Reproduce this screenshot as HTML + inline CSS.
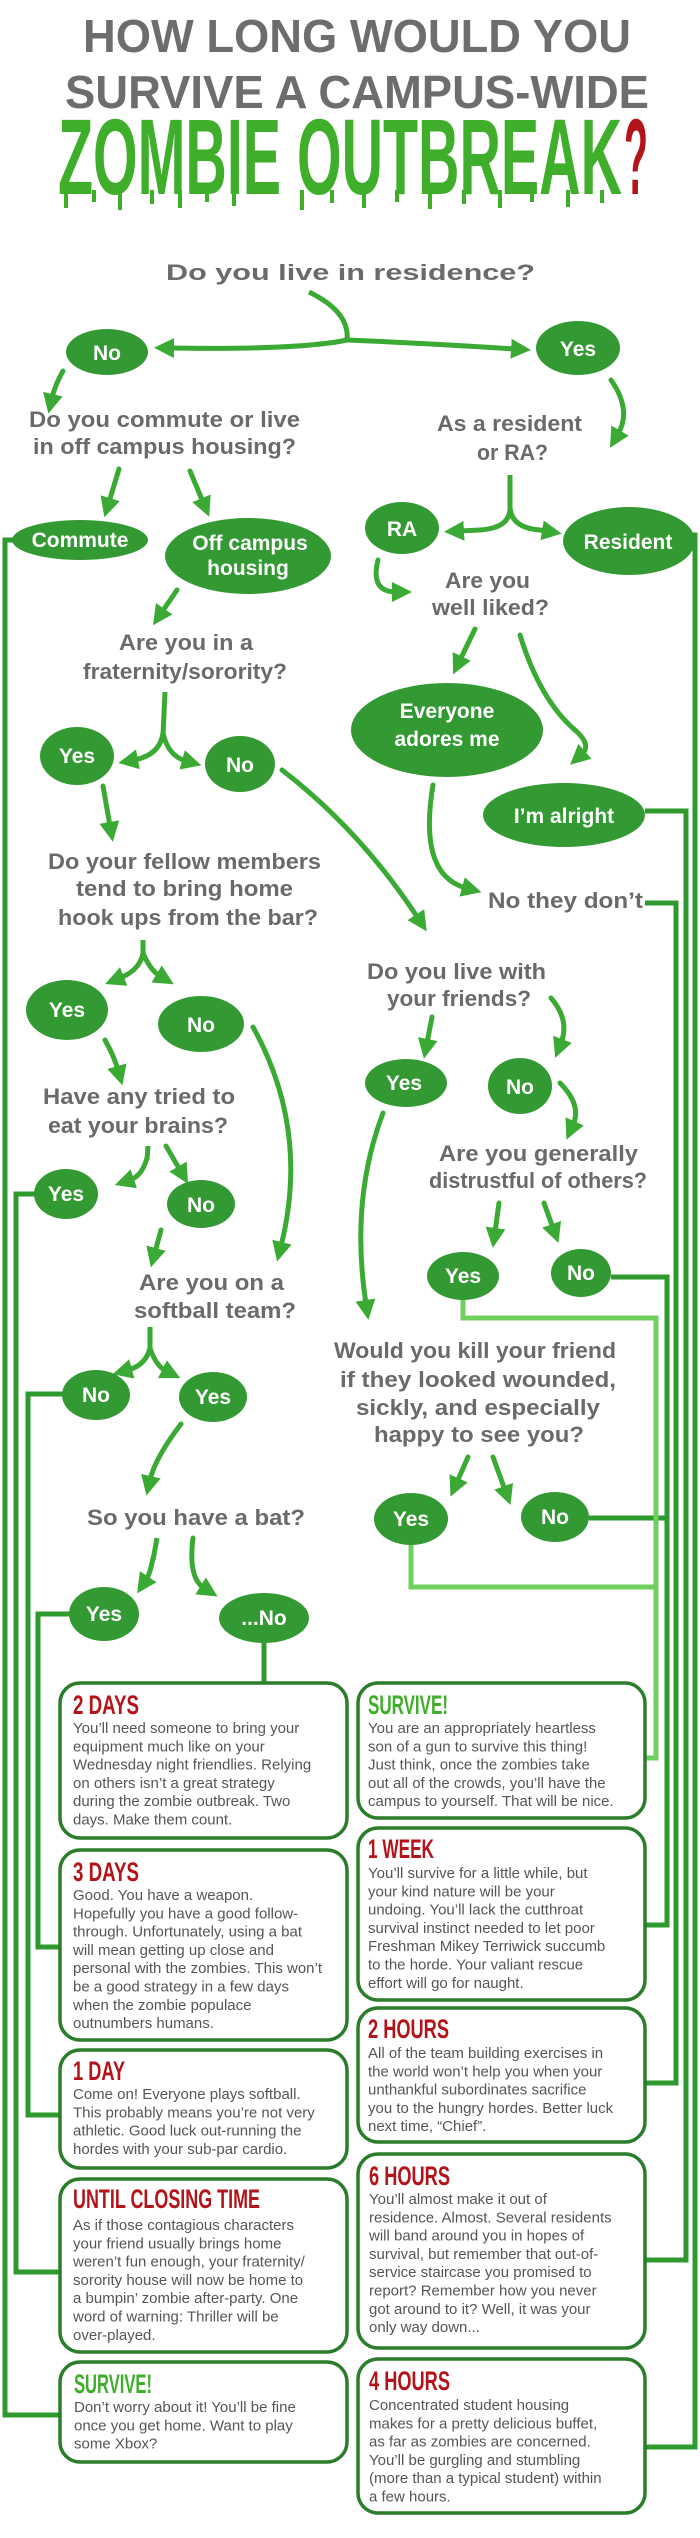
<!DOCTYPE html>
<html><head><meta charset="utf-8"><style>
html,body{margin:0;padding:0;background:#fff;}
svg{display:block;}
.q{font-family:"Liberation Sans",sans-serif;font-weight:bold;fill:#6a6a6a;font-size:22px;}
.l{font-family:"Liberation Sans",sans-serif;font-weight:bold;fill:#fff;font-size:21px;text-anchor:middle;}
.b{font-family:"Liberation Sans",sans-serif;fill:#555;font-size:15px;}
.h{font-family:"Liberation Sans Narrow","Liberation Sans",sans-serif;font-weight:bold;font-size:27px;fill:#b3141a;}
.a{fill:none;stroke:#3aaa35;stroke-width:5;stroke-linecap:round;marker-end:url(#ah);}
.ln{fill:none;stroke:#2e9a2e;stroke-width:5;}
.bx{fill:#fff;stroke:#2a7d2a;stroke-width:3.5;}
</style></head><body>
<svg width="700" height="2538" viewBox="0 0 700 2538" xmlns="http://www.w3.org/2000/svg">
<defs>
<marker id="ah" markerUnits="userSpaceOnUse" markerWidth="22" markerHeight="22" refX="4" refY="11" orient="auto">
<path d="M0,1 L20,11 L0,21 Z" fill="#3aaa35"/>
</marker>
</defs>

<!-- Title -->
<text x="83" y="52" textLength="548" lengthAdjust="spacingAndGlyphs" font-family="Liberation Sans, sans-serif" font-weight="bold" font-size="46" fill="#6d6d6d">HOW LONG WOULD YOU</text>
<text x="65" y="108" textLength="584" lengthAdjust="spacingAndGlyphs" font-family="Liberation Sans, sans-serif" font-weight="bold" font-size="46" fill="#6d6d6d">SURVIVE A CAMPUS-WIDE</text>
<text x="58" y="194" textLength="564" lengthAdjust="spacingAndGlyphs" font-family="Liberation Sans Narrow, Liberation Sans, sans-serif" font-weight="bold" font-size="108" fill="#3fae2a">ZOMBIE OUTBREAK</text>
<text x="624" y="194" textLength="24" lengthAdjust="spacingAndGlyphs" font-family="Liberation Sans Narrow, Liberation Sans, sans-serif" font-weight="bold" font-size="108" fill="#b3141a">?</text>
<g fill="#3fae2a">
<rect x="64" y="190" width="4" height="18"/><rect x="92" y="190" width="4" height="12"/><rect x="118" y="190" width="4" height="20"/><rect x="150" y="190" width="4" height="14"/><rect x="178" y="190" width="4" height="18"/><rect x="205" y="190" width="4" height="12"/><rect x="232" y="190" width="4" height="16"/><rect x="300" y="190" width="4" height="20"/><rect x="330" y="190" width="4" height="13"/><rect x="362" y="190" width="4" height="18"/><rect x="395" y="190" width="4" height="12"/><rect x="428" y="190" width="4" height="19"/><rect x="462" y="190" width="4" height="14"/><rect x="498" y="190" width="4" height="18"/><rect x="530" y="190" width="4" height="12"/><rect x="566" y="190" width="4" height="17"/><rect x="600" y="190" width="4" height="13"/>
</g>

<!-- side lines -->
<path class="ln" d="M14,540 L5,540 L5,2415 L60,2415"/>
<path class="ln" d="M36,1194 L16,1194 L16,2272 L60,2272"/>
<path class="ln" d="M63,1394 L28,1394 L28,2115 L60,2115"/>
<path class="ln" d="M70,1614 L38,1614 L38,1947 L60,1947"/>
<path class="ln" d="M264,1643 L264,1683"/>
<path class="ln" d="M693,535 L695,535 L695,2447 L645,2447"/>
<path class="ln" d="M645,811 L686,811 L686,2260 L645,2260"/>
<path class="ln" d="M645,903 L676,903 L676,2083 L645,2083"/>
<path class="ln" d="M611,1277 L667,1277 L667,1925 L645,1925"/>
<path class="ln" d="M589,1518 L667,1518"/>
<path class="ln" style="stroke:#6fcf5f" d="M463,1300 L463,1318 L656,1318 L656,1758 L645,1758"/>
<path class="ln" style="stroke:#6fcf5f" d="M411,1545 L411,1587 L656,1587"/>

<!-- arrows -->
<path d="M309,292 Q350,312 347,340" fill="none" stroke="#3aaa35" stroke-width="5"/>
<path class="a" d="M347,340 Q300,350 170,348"/>
<path class="a" d="M347,340 Q420,343 515,349"/>
<path class="a" d="M63,371 Q55,385 52,398"/>
<path class="a" d="M611,380 Q632,410 618,434"/>
<path class="a" d="M119,469 L109,502"/>
<path class="a" d="M190,471 L203,502"/>
<path d="M510,475 L510,510" fill="none" stroke="#3aaa35" stroke-width="5"/>
<path class="a" d="M510,508 Q510,528 480,530 L460,531"/>
<path class="a" d="M510,508 Q512,528 540,530 L546,531"/>
<path class="a" d="M378,560 Q370,592 396,592"/>
<path class="a" d="M177,590 L162,612"/>
<path d="M165,692 L163,735" fill="none" stroke="#3aaa35" stroke-width="5"/>
<path class="a" d="M163,733 Q160,755 134,760"/>
<path class="a" d="M163,733 Q168,756 186,761"/>
<path class="a" d="M103,786 L110,826"/>
<path class="a" d="M282,770 Q360,830 418,918"/>
<path class="a" d="M475,629 L460,660"/>
<path class="a" d="M520,635 Q540,700 575,730 Q592,745 582,754"/>
<path class="a" d="M433,785 Q418,875 466,888"/>
<path d="M143,940 L143,955" fill="none" stroke="#3aaa35" stroke-width="5"/>
<path class="a" d="M143,953 Q140,970 120,978"/>
<path class="a" d="M143,953 Q150,970 160,976"/>
<path class="a" d="M105,1040 Q114,1056 118,1070"/>
<path class="a" d="M253,1027 Q310,1130 281,1246"/>
<path class="a" d="M432,1017 L427,1043"/>
<path class="a" d="M551,998 Q570,1020 561,1043"/>
<path class="a" d="M560,1083 Q582,1105 573,1125"/>
<path class="a" d="M383,1113 Q350,1200 366,1304"/>
<path d="M148,1146 L147,1160" fill="none" stroke="#3aaa35" stroke-width="5"/>
<path class="a" d="M147,1158 Q142,1176 130,1180"/>
<path class="a" d="M166,1146 L180,1170"/>
<path class="a" d="M161,1230 L155,1252"/>
<path class="a" d="M499,1203 L495,1232"/>
<path class="a" d="M544,1203 L553,1228"/>
<path d="M150,1327 L150,1350" fill="none" stroke="#3aaa35" stroke-width="5"/>
<path class="a" d="M150,1348 Q146,1365 128,1370"/>
<path class="a" d="M150,1348 Q156,1366 166,1371"/>
<path class="a" d="M181,1424 Q155,1458 150,1480"/>
<path class="a" d="M468,1457 L457,1482"/>
<path class="a" d="M493,1457 L505,1490"/>
<path d="M157,1538 L153,1560" fill="none" stroke="#3aaa35" stroke-width="5"/>
<path class="a" d="M153,1558 Q150,1574 146,1580"/>
<path class="a" d="M193,1538 Q188,1578 204,1588"/>

<!-- questions -->
<text class="q" x="166" y="280" font-size="27" textLength="369" lengthAdjust="spacingAndGlyphs">Do you live in residence?</text>
<text class="q" x="29" y="427" textLength="271" lengthAdjust="spacingAndGlyphs">Do you commute or live</text>
<text class="q" x="33" y="454" textLength="263" lengthAdjust="spacingAndGlyphs">in off campus housing?</text>
<text class="q" x="437" y="431" textLength="145" lengthAdjust="spacingAndGlyphs">As a resident</text>
<text class="q" x="477" y="460" textLength="71" lengthAdjust="spacingAndGlyphs">or RA?</text>
<text class="q" x="445" y="588" textLength="85" lengthAdjust="spacingAndGlyphs">Are you</text>
<text class="q" x="432" y="615" textLength="117" lengthAdjust="spacingAndGlyphs">well liked?</text>
<text class="q" x="119" y="650" textLength="134" lengthAdjust="spacingAndGlyphs">Are you in a</text>
<text class="q" x="83" y="679" textLength="204" lengthAdjust="spacingAndGlyphs">fraternity/sorority?</text>
<text class="q" x="48" y="869" textLength="273" lengthAdjust="spacingAndGlyphs">Do your fellow members</text>
<text class="q" x="76" y="896" textLength="217" lengthAdjust="spacingAndGlyphs">tend to bring home</text>
<text class="q" x="58" y="925" textLength="260" lengthAdjust="spacingAndGlyphs">hook ups from the bar?</text>
<text class="q" x="488" y="908" textLength="155" lengthAdjust="spacingAndGlyphs">No they don’t</text>
<text class="q" x="367" y="979" textLength="179" lengthAdjust="spacingAndGlyphs">Do you live with</text>
<text class="q" x="387" y="1006" textLength="144" lengthAdjust="spacingAndGlyphs">your friends?</text>
<text class="q" x="43" y="1104" textLength="192" lengthAdjust="spacingAndGlyphs">Have any tried to</text>
<text class="q" x="48" y="1133" textLength="180" lengthAdjust="spacingAndGlyphs">eat your brains?</text>
<text class="q" x="439" y="1161" textLength="199" lengthAdjust="spacingAndGlyphs">Are you generally</text>
<text class="q" x="429" y="1188" textLength="218" lengthAdjust="spacingAndGlyphs">distrustful of others?</text>
<text class="q" x="139" y="1290" textLength="145" lengthAdjust="spacingAndGlyphs">Are you on a</text>
<text class="q" x="134" y="1318" textLength="162" lengthAdjust="spacingAndGlyphs">softball team?</text>
<text class="q" x="334" y="1358" textLength="282" lengthAdjust="spacingAndGlyphs">Would you kill your friend</text>
<text class="q" x="340" y="1387" textLength="276" lengthAdjust="spacingAndGlyphs">if they looked wounded,</text>
<text class="q" x="356" y="1415" textLength="244" lengthAdjust="spacingAndGlyphs">sickly, and especially</text>
<text class="q" x="374" y="1442" textLength="210" lengthAdjust="spacingAndGlyphs">happy to see you?</text>
<text class="q" x="87" y="1525" textLength="218" lengthAdjust="spacingAndGlyphs">So you have a bat?</text>

<!-- ellipses -->
<g fill="#339933">
<ellipse cx="107" cy="352" rx="41" ry="23"/>
<ellipse cx="578" cy="348" rx="42" ry="27"/>
<ellipse cx="80" cy="540" rx="68" ry="20"/>
<ellipse cx="248" cy="556" rx="83" ry="38"/>
<ellipse cx="402" cy="528" rx="37" ry="26"/>
<ellipse cx="629" cy="541" rx="66" ry="34"/>
<ellipse cx="447" cy="730" rx="96" ry="47"/>
<ellipse cx="564" cy="815" rx="81" ry="32"/>
<ellipse cx="77" cy="756" rx="37" ry="29"/>
<ellipse cx="240" cy="764" rx="35" ry="28"/>
<ellipse cx="67" cy="1010" rx="41" ry="30"/>
<ellipse cx="201" cy="1024" rx="43" ry="28"/>
<ellipse cx="406" cy="1083" rx="41" ry="24"/>
<ellipse cx="520" cy="1086" rx="32" ry="28"/>
<ellipse cx="66" cy="1194" rx="32" ry="25"/>
<ellipse cx="201" cy="1204" rx="34" ry="24"/>
<ellipse cx="463" cy="1276" rx="36" ry="24"/>
<ellipse cx="581" cy="1273" rx="30" ry="24"/>
<ellipse cx="96" cy="1395" rx="34" ry="25"/>
<ellipse cx="213" cy="1397" rx="34" ry="25"/>
<ellipse cx="411" cy="1519" rx="37" ry="26"/>
<ellipse cx="555" cy="1517" rx="34" ry="25"/>
<ellipse cx="104" cy="1614" rx="35" ry="27"/>
<ellipse cx="264" cy="1618" rx="45" ry="25"/>
</g>
<text class="l" x="107" y="360">No</text>
<text class="l" x="578" y="356">Yes</text>
<text class="l" x="80" y="547">Commute</text>
<text class="l" x="250" y="550">Off campus</text>
<text class="l" x="248" y="575">housing</text>
<text class="l" x="402" y="536">RA</text>
<text class="l" x="628" y="549">Resident</text>
<text class="l" x="447" y="718">Everyone</text>
<text class="l" x="447" y="746">adores me</text>
<text class="l" x="564" y="823">I’m alright</text>
<text class="l" x="77" y="763">Yes</text>
<text class="l" x="240" y="772">No</text>
<text class="l" x="67" y="1017">Yes</text>
<text class="l" x="201" y="1032">No</text>
<text class="l" x="404" y="1090">Yes</text>
<text class="l" x="520" y="1094">No</text>
<text class="l" x="66" y="1201">Yes</text>
<text class="l" x="201" y="1212">No</text>
<text class="l" x="463" y="1283">Yes</text>
<text class="l" x="581" y="1280">No</text>
<text class="l" x="96" y="1402">No</text>
<text class="l" x="213" y="1404">Yes</text>
<text class="l" x="411" y="1526">Yes</text>
<text class="l" x="555" y="1524">No</text>
<text class="l" x="104" y="1621">Yes</text>
<text class="l" x="264" y="1625">...No</text>

<!-- boxes -->
<rect class="bx" x="60" y="1683" width="287" height="155" rx="20"/>
<rect class="bx" x="60" y="1850" width="287" height="190" rx="20"/>
<rect class="bx" x="60" y="2050" width="287" height="118" rx="20"/>
<rect class="bx" x="60" y="2179" width="287" height="173" rx="20"/>
<rect class="bx" x="60" y="2362" width="287" height="100" rx="20"/>
<rect class="bx" x="358" y="1683" width="287" height="135" rx="20"/>
<rect class="bx" x="358" y="1828" width="287" height="172" rx="20"/>
<rect class="bx" x="358" y="2008" width="287" height="134" rx="20"/>
<rect class="bx" x="358" y="2154" width="287" height="194" rx="20"/>
<rect class="bx" x="358" y="2359" width="287" height="154" rx="20"/>

<text class="h" x="73" y="1714" textLength="66" lengthAdjust="spacingAndGlyphs">2 DAYS</text>
<text class="b" x="73"><tspan x="73" y="1733">You’ll need someone to bring your</tspan><tspan x="73" dy="18.3">equipment much like on your</tspan><tspan x="73" dy="18.3">Wednesday night friendlies. Relying</tspan><tspan x="73" dy="18.3">on others isn’t a great strategy</tspan><tspan x="73" dy="18.3">during the zombie outbreak. Two</tspan><tspan x="73" dy="18.3">days. Make them count.</tspan></text>

<text class="h" x="73" y="1881" textLength="66" lengthAdjust="spacingAndGlyphs">3 DAYS</text>
<text class="b"><tspan x="73" y="1900">Good. You have a weapon.</tspan><tspan x="73" dy="18.3">Hopefully you have a good follow-</tspan><tspan x="73" dy="18.3">through. Unfortunately, using a bat</tspan><tspan x="73" dy="18.3">will mean getting up close and</tspan><tspan x="73" dy="18.3">personal with the zombies. This won’t</tspan><tspan x="73" dy="18.3">be a good strategy in a few days</tspan><tspan x="73" dy="18.3">when the zombie populace</tspan><tspan x="73" dy="18.3">outnumbers humans.</tspan></text>

<text class="h" x="73" y="2080" textLength="52" lengthAdjust="spacingAndGlyphs">1 DAY</text>
<text class="b"><tspan x="73" y="2099">Come on! Everyone plays softball.</tspan><tspan x="73" dy="18.3">This probably means you’re not very</tspan><tspan x="73" dy="18.3">athletic. Good luck out-running the</tspan><tspan x="73" dy="18.3">hordes with your sub-par cardio.</tspan></text>

<text class="h" x="73" y="2208" textLength="187" lengthAdjust="spacingAndGlyphs">UNTIL CLOSING TIME</text>
<text class="b"><tspan x="73" y="2230">As if those contagious characters</tspan><tspan x="73" dy="18.3">your friend usually brings home</tspan><tspan x="73" dy="18.3">weren’t fun enough, your fraternity/</tspan><tspan x="73" dy="18.3">sorority house will now be home to</tspan><tspan x="73" dy="18.3">a bumpin’ zombie after-party. One</tspan><tspan x="73" dy="18.3">word of warning: Thriller will be</tspan><tspan x="73" dy="18.3">over-played.</tspan></text>

<text class="h" x="74" y="2393" textLength="78" lengthAdjust="spacingAndGlyphs" style="fill:#3fae2a">SURVIVE!</text>
<text class="b"><tspan x="74" y="2412">Don’t worry about it! You’ll be fine</tspan><tspan x="74" dy="18.3">once you get home. Want to play</tspan><tspan x="74" dy="18.3">some Xbox?</tspan></text>

<text class="h" x="368" y="1714" textLength="80" lengthAdjust="spacingAndGlyphs" style="fill:#3fae2a">SURVIVE!</text>
<text class="b"><tspan x="368" y="1733">You are an appropriately heartless</tspan><tspan x="368" dy="18.3">son of a gun to survive this thing!</tspan><tspan x="368" dy="18.3">Just think, once the zombies take</tspan><tspan x="368" dy="18.3">out all of the crowds, you’ll have the</tspan><tspan x="368" dy="18.3">campus to yourself. That will be nice.</tspan></text>

<text class="h" x="368" y="1858" textLength="66" lengthAdjust="spacingAndGlyphs">1 WEEK</text>
<text class="b"><tspan x="368" y="1878">You’ll survive for a little while, but</tspan><tspan x="368" dy="18.3">your kind nature will be your</tspan><tspan x="368" dy="18.3">undoing. You’ll lack the cutthroat</tspan><tspan x="368" dy="18.3">survival instinct needed to let poor</tspan><tspan x="368" dy="18.3">Freshman Mikey Terriwick succumb</tspan><tspan x="368" dy="18.3">to the horde. Your valiant rescue</tspan><tspan x="368" dy="18.3">effort will go for naught.</tspan></text>

<text class="h" x="368" y="2038" textLength="81" lengthAdjust="spacingAndGlyphs">2 HOURS</text>
<text class="b"><tspan x="368" y="2058">All of the team building exercises in</tspan><tspan x="368" dy="18.3">the world won’t help you when your</tspan><tspan x="368" dy="18.3">unthankful subordinates sacrifice</tspan><tspan x="368" dy="18.3">you to the hungry hordes. Better luck</tspan><tspan x="368" dy="18.3">next time, “Chief”.</tspan></text>

<text class="h" x="369" y="2185" textLength="81" lengthAdjust="spacingAndGlyphs">6 HOURS</text>
<text class="b"><tspan x="369" y="2204">You’ll almost make it out of</tspan><tspan x="369" dy="18.3">residence. Almost. Several residents</tspan><tspan x="369" dy="18.3">will band around you in hopes of</tspan><tspan x="369" dy="18.3">survival, but remember that out-of-</tspan><tspan x="369" dy="18.3">service staircase you promised to</tspan><tspan x="369" dy="18.3">report? Remember how you never</tspan><tspan x="369" dy="18.3">got around to it? Well, it was your</tspan><tspan x="369" dy="18.3">only way down...</tspan></text>

<text class="h" x="369" y="2390" textLength="81" lengthAdjust="spacingAndGlyphs">4 HOURS</text>
<text class="b"><tspan x="369" y="2410">Concentrated student housing</tspan><tspan x="369" dy="18.3">makes for a pretty delicious buffet,</tspan><tspan x="369" dy="18.3">as far as zombies are concerned.</tspan><tspan x="369" dy="18.3">You’ll be gurgling and stumbling</tspan><tspan x="369" dy="18.3">(more than a typical student) within</tspan><tspan x="369" dy="18.3">a few hours.</tspan></text>
</svg>
</body></html>
